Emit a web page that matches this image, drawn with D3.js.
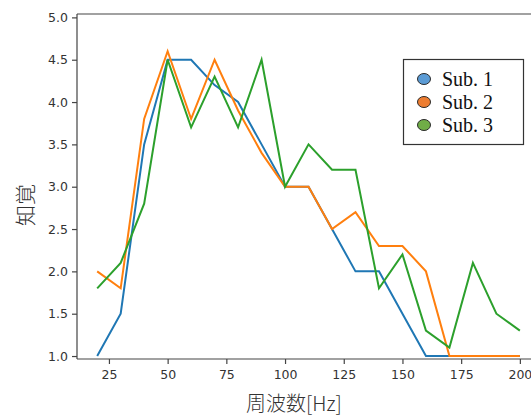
<!DOCTYPE html>
<html>
<head>
<meta charset="utf-8">
<script src="https://cdn.jsdelivr.net/npm/d3@7"></script>
<style>
	body { margin: 0; background: #fff; }
	svg { display: block; }
</style>
</head>
<body>
<div id="chart"></div>
<script>
// frequencies [Hz]
var freqs = [20, 30, 40, 50, 60, 70, 80, 90, 100, 110, 120, 130, 140, 150, 160, 170, 180, 190, 200];
var sub1 = [1.0, 1.5, 3.5, 4.5, 4.5, 4.2, 4.0, 3.5, 3.0, 3.0, 2.5, 2.0, 2.0, 1.5, 1.0, 1.0, 1.0, 1.0, 1.0];
var sub2 = [2.0, 1.8, 3.8, 4.6, 3.8, 4.5, 3.9, 3.4, 3.0, 3.0, 2.5, 2.7, 2.3, 2.3, 2.0, 1.0, 1.0, 1.0, 1.0];
var sub3 = [1.8, 2.1, 2.8, 4.5, 3.7, 4.3, 3.7, 4.5, 3.0, 3.5, 3.2, 3.2, 1.8, 2.2, 1.3, 1.1, 2.1, 1.5, 1.3];
var seriesNames = ["Sub. 1", "Sub. 2", "Sub. 3"];
var xTicks = [25, 50, 75, 100, 125, 150, 175, 200];
var yTicks = [1.0, 1.5, 2.0, 2.5, 3.0, 3.5, 4.0, 4.5, 5.0];

var lineColors = ["#1f77b4", "#ff7f0e", "#2ca02c"];
var markerColors = ["#5b9bd5", "#ed7d31", "#70ad47"];

function drawChart() {
	var width = 531, height = 419;
	var left = 77, top = 14, bottom = 359;

	var svg = d3.select("#chart").append("svg")
		.attr("width", width).attr("height", height);

	var x = d3.scaleLinear().domain([11.4, 209]).range([left, 541]);
	var y = d3.scaleLinear().domain([0.965, 5.04]).range([bottom, top]);

	var axisColor = "#444";

	// lines
	var line = d3.line()
		.x(function(d) { return x(d[0]); })
		.y(function(d) { return y(d[1]); });

	var all = [sub1, sub2, sub3];
	var i = 0;
	for (i; i < all.length; i++) {
		var pts = freqs.map(function(f, j) { return [f, all[i][j]]; });
		svg.append("path").datum(pts)
			.attr("d", line)
			.attr("fill", "none")
			.attr("stroke", lineColors[i])
			.attr("stroke-width", 2)
			.attr("stroke-linejoin", "miter");
	}

	// spines
	svg.append("line").attr("x1", left).attr("x2", left)
		.attr("y1", top).attr("y2", bottom)
		.attr("stroke", axisColor).attr("stroke-width", 1.2);
	svg.append("line").attr("x1", left).attr("x2", width)
		.attr("y1", top).attr("y2", top)
		.attr("stroke", axisColor).attr("stroke-width", 1.2);

	// axes
	var xAxis = d3.axisBottom(x).tickValues(xTicks).tickSize(5).tickPadding(6)
		.tickFormat(d3.format("d"));
	var gx = svg.append("g").attr("transform", "translate(0," + bottom + ")").call(xAxis);
	gx.select(".domain").attr("d", "M" + left + ",0H" + width).attr("stroke", axisColor).attr("stroke-width", 1.2);

	var yAxis = d3.axisLeft(y).tickValues(yTicks).tickSize(5).tickPadding(4)
		.tickFormat(d3.format(".1f"));
	var gy = svg.append("g").attr("transform", "translate(" + left + ",0)").call(yAxis);
	gy.select(".domain").remove();

	svg.selectAll(".tick line").attr("stroke", axisColor).attr("stroke-width", 1.2);
	svg.selectAll(".tick text")
		.attr("fill", "#333")
		.style("font-family", "DejaVu Sans")
		.style("font-size", "12.5px");

	// axis labels
	svg.append("text")
		.attr("x", 294).attr("y", 411)
		.attr("text-anchor", "middle")
		.attr("fill", "#333")
		.style("font-family", "Noto Sans CJK JP")
		.style("font-weight", "300")
		.style("font-size", "20px")
		.text("周波数[Hz]");

	svg.append("text")
		.attr("transform", "translate(33,205) rotate(-90)")
		.attr("text-anchor", "middle")
		.attr("fill", "#333")
		.style("font-family", "Noto Sans CJK JP")
		.style("font-weight", "300")
		.style("font-size", "21px")
		.text("知覚");

	// legend
	var legend = svg.append("g");
	legend.append("rect")
		.attr("x", 403.5).attr("y", 59.5).attr("width", 120).attr("height", 85)
		.attr("fill", "#fff").attr("stroke", "#333").attr("stroke-width", 1.2);
	var k = 0;
	for (k; k < seriesNames.length; k++) {
		var ly = 79 + k * 23;
		legend.append("ellipse")
			.attr("cx", 424).attr("cy", ly)
			.attr("rx", 6.5).attr("ry", 5.5)
			.attr("fill", markerColors[k]).attr("stroke", "#2b2b2b").attr("stroke-width", 1);
		legend.append("text")
			.attr("x", 442).attr("y", ly + 6.5)
			.attr("fill", "#111")
			.style("font-family", "Liberation Serif")
			.style("font-size", "20px")
			.text(seriesNames[k]);
	}
}

try {
	drawChart();
} catch (error) {
	console.log("Function :: drawChart Error: " + error);
}
</script>
</body>
</html>
